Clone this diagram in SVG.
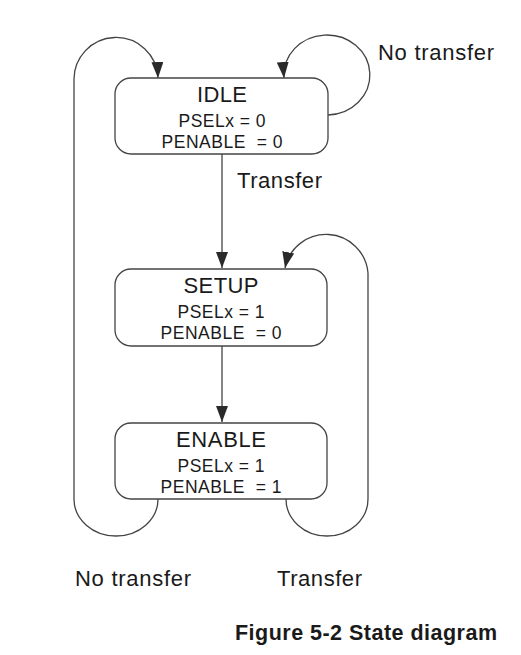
<svg xmlns="http://www.w3.org/2000/svg" width="521" height="655" viewBox="0 0 521 655">
<style>
.box{fill:#fff;stroke:#444;stroke-width:1.3}
.edge{fill:none;stroke:#444;stroke-width:1.3}
text{font-family:"Liberation Sans",Arial,sans-serif;fill:#1a1a1a}
.t{font-size:22px;text-anchor:middle}
.s{font-size:17.5px;text-anchor:middle}
.l{font-size:22px}
.cap{font-size:21.5px;font-weight:bold}
</style>
<defs>
<marker id="arr" viewBox="0 0 16 12" refX="16" refY="6" markerWidth="16" markerHeight="12" markerUnits="userSpaceOnUse" orient="auto">
<path d="M0,0 L16,6 L0,12 Z" fill="#2a2a2a"/>
</marker>
</defs>
<rect width="521" height="655" fill="#fff"/>
<g id="connectors">
<path class="edge" d="M222,154 L222,268" marker-end="url(#arr)"/>
<path class="edge" d="M222,346 L222,422" marker-end="url(#arr)"/>
<path class="edge" d="M328,115 A43,40 0 1 0 284,78" marker-end="url(#arr)"/>
<path class="edge" d="M158,499 A42,37 0 0 1 74,499 L74,81 A42,42 0 0 1 158,78" marker-end="url(#arr)"/>
<path class="edge" d="M286,499 A41,37 0 0 0 368,499 L368,273 A42,42 0 0 0 285,268" marker-end="url(#arr)"/>
</g>
<g id="idle">
<rect class="box" x="115" y="78" width="213" height="76" rx="16"/>
<text class="t" x="222" y="102" textLength="50">IDLE</text>
<text class="s" x="222" y="127" textLength="87">PSELx = 0</text>
<text class="s" x="222" y="148" textLength="121" xml:space="preserve">PENABLE  = 0</text>
</g>
<g id="setup">
<rect class="box" x="115" y="269" width="212" height="77" rx="16"/>
<text class="t" x="221" y="293" textLength="75">SETUP</text>
<text class="s" x="221" y="318" textLength="87">PSELx = 1</text>
<text class="s" x="221" y="339" textLength="121" xml:space="preserve">PENABLE  = 0</text>
</g>
<g id="enable">
<rect class="box" x="115" y="423" width="212" height="76" rx="16"/>
<text class="t" x="221" y="447" textLength="90">ENABLE</text>
<text class="s" x="221" y="472" textLength="87">PSELx = 1</text>
<text class="s" x="221" y="493" textLength="121" xml:space="preserve">PENABLE  = 1</text>
</g>
<g id="labels">
<text class="l" x="378" y="60" textLength="116">No transfer</text>
<text class="l" x="237" y="188" textLength="85">Transfer</text>
<text class="l" x="75" y="586" textLength="116">No transfer</text>
<text class="l" x="277" y="586" textLength="85">Transfer</text>
<text class="cap" x="235" y="640" textLength="262">Figure 5-2 State diagram</text>
</g>
</svg>
